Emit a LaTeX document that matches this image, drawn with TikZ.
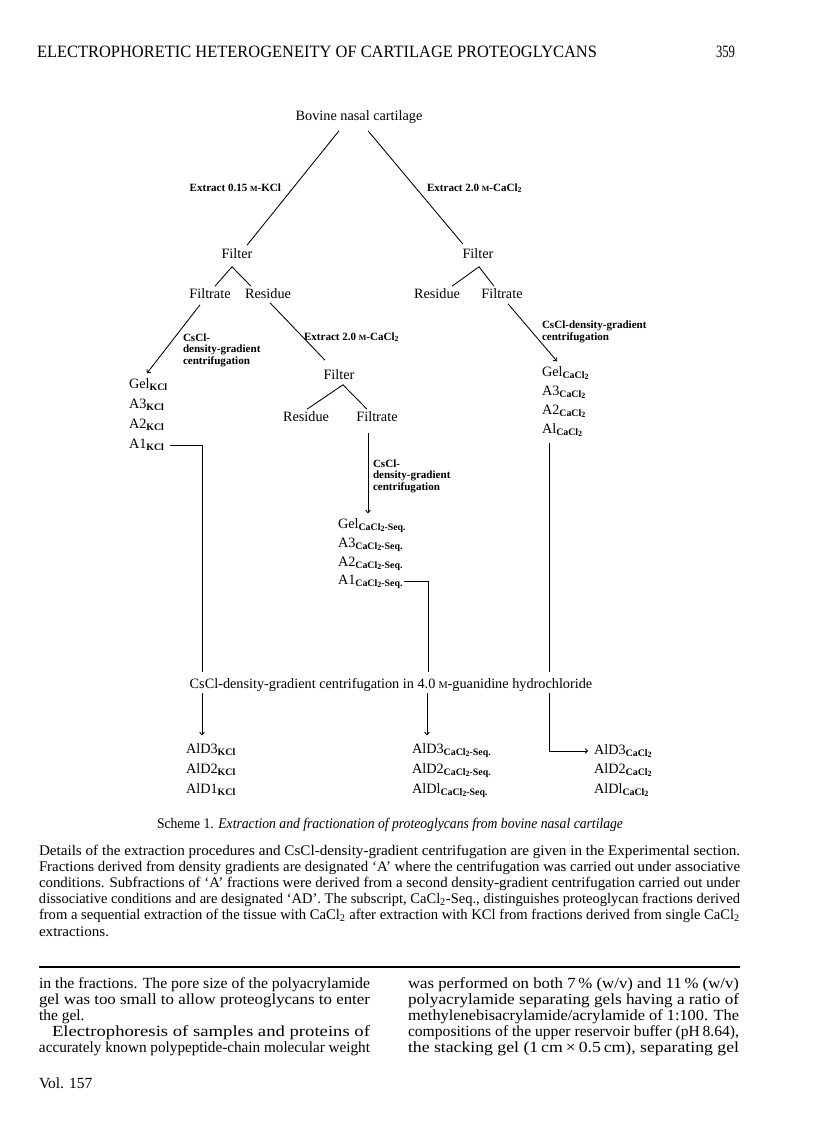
\documentclass[tikz,border=0pt]{standalone}
\usepackage{fontspec}
\setmainfont{Liberation Serif}
\usepackage{graphicx}
\usetikzlibrary{arrows.meta,calc}
\newlength\px \setlength\px{0.75pt}
\newcommand\sml{\kern0.6pt\scalebox{0.72}{M}}
\newcommand\subk[1]{\raisebox{-0.35ex}{\fontsize{7.4}{8}\selectfont\bfseries #1}}
\newcommand\two{\raisebox{-0.3ex}{\fontsize{6}{6}\selectfont 2}}
\newcommand\kcl{\subk{KCl}}
\newcommand\cac{\subk{CaCl\two}}
\newcommand\cas{\subk{CaCl\two-Seq.}}
\begin{document}
\begin{tikzpicture}[x=0.75pt,y=-0.75pt,
  every node/.style={inner sep=0pt,outer sep=0pt},
  lab/.style={font=\fontsize{10.7}{12}\selectfont, text height=7.5pt, text depth=2.7pt},
  note/.style={font=\fontsize{8.3}{8.7}\selectfont\bfseries, align=left},
  con/.style={line width=0.65pt},
  arr/.style={con, -{To[length=2.5pt,width=4pt]}},
  para/.style={anchor=west, font=\fontsize{11}{12}\selectfont},
  body/.style={anchor=west, font=\fontsize{11.6}{13}\selectfont},
  head/.style={font=\fontsize{13}{14}\selectfont}]
\fill[white] (0,0) rectangle (816,1136);
\useasboundingbox (0,0) rectangle (816,1136);

% header
\node[head, anchor=west] (title) at (37,52) {\resizebox{560\px}{\height}{ELECTROPHORETIC HETEROGENEITY OF CARTILAGE PROTEOGLYCANS}};
\node[head, anchor=east] (pageno) at (735,52) {\resizebox{19\px}{\height}{359}};

% diagram nodes
\node[lab] (bov) at (359,117) {Bovine nasal cartilage};
\node[note, anchor=east] (exL) at (281,188) {Extract 0.15\,\sml-KCl};
\node[note, anchor=west] (exR) at (427,188) {Extract 2.0\,\sml-CaCl\textsubscript{2}};
\node[lab] (filL) at (237,255) {Filter};
\node[lab] (filR) at (478,255) {Filter};
\node[lab] (filtL) at (210,295) {Filtrate};
\node[lab] (resL) at (268,295) {Residue};
\node[lab] (resR) at (437,295) {Residue};
\node[lab] (filtR) at (502,295) {Filtrate};
\node[note, anchor=west] (csL) at (183,350) {CsCl-\\density-gradient\\centrifugation};
\node[note, anchor=west] (exM) at (304,337) {Extract 2.0\,\sml-CaCl\textsubscript{2}};
\node[lab] (filM) at (339,376) {Filter};
\node[lab] (resM) at (306,418) {Residue};
\node[lab] (filtM) at (377,418) {Filtrate};
\node[note, anchor=west] (csM) at (373,476) {CsCl-\\density-gradient\\centrifugation};
\node[note, anchor=west] (csR) at (542,332) {CsCl-density-gradient\\centrifugation};

\node[lab, anchor=west] (gelK) at (129,385) {Gel\kcl};
\node[lab, anchor=west] (a3K) at (129,405) {A3\kcl};
\node[lab, anchor=west] (a2K) at (129,425) {A2\kcl};
\node[lab, anchor=west] (a1K) at (129,445) {A1\kcl};

\node[lab, anchor=west] (gelC) at (542,373) {Gel\cac};
\node[lab, anchor=west] (a3C) at (542,392) {A3\cac};
\node[lab, anchor=west] (a2C) at (542,411) {A2\cac};
\node[lab, anchor=west] (a1C) at (542,430) {Al\cac};

\node[lab, anchor=west] (gelS) at (338,525) {Gel\cas};
\node[lab, anchor=west] (a3S) at (338,544) {A3\cas};
\node[lab, anchor=west] (a2S) at (338,563) {A2\cas};
\node[lab, anchor=west] (a1S) at (338,581) {A1\cas};

\node[lab] (cscl) at (391,685) {CsCl-density-gradient centrifugation in 4.0\,\sml-guanidine hydrochloride};

\node[lab, anchor=west] (alD3K) at (186,750) {AlD3\kcl};
\node[lab, anchor=west] (alD2K) at (186,770) {AlD2\kcl};
\node[lab, anchor=west] (alD1K) at (186,790) {AlD1\kcl};
\node[lab, anchor=west] (alD3S) at (412,750) {AlD3\cas};
\node[lab, anchor=west] (alD2S) at (412,770) {AlD2\cas};
\node[lab, anchor=west] (alD1S) at (412,790) {AlDl\cas};
\node[lab, anchor=west] (alD3C) at (594,751) {AlD3\cac};
\node[lab, anchor=west] (alD2C) at (594,770) {AlD2\cac};
\node[lab, anchor=west] (alD1C) at (594,790) {AlDl\cac};

% connectors
\draw[con] ($(bov.south)+(-20,7)$) -- ($(filL.north)+(10,-3)$);
\draw[con] ($(bov.south)+(9,7)$) -- ($(filR.north)+(-15,-4)$);
\draw[con] ($(filtL.north)+(5,-2)$) -- ($(filL.south)+(-5,5)$) -- ($(resL.north)+(-17,-2)$);
\draw[con] ($(resR.north)+(15,-2)$) -- ($(filR.south)+(1,5)$) -- ($(filtR.north)+(-8,-2)$);
\draw[arr] ($(filtL.south)+(-10,3)$) -- ($(gelK.north west)+(18,-5)$);
\draw[con] ($(resL.south)+(2,1)$) -- ($(filM.north)+(-14,-9)$);
\draw[con] ($(resM.north)+(1,-2)$) -- ($(filM.south)+(4,2)$) -- ($(filtM.north)+(-10,-2)$);
\draw[arr] ($(filtM.south)+(-9,8)$) -- ($(gelS.north west)+(30,-5)$);
\draw[arr] ($(filtR.south)+(6,2)$) -- ($(gelC.north west)+(15,-5)$);

\draw[con] ($(a1K.east)+(6,0)$) -| ($(cscl.north)+(-189,-6)$);
\draw[con] ($(a1S.east)+(2,0)$) -| ($(cscl.north)+(37,-6)$);
\draw[con] ($(a1C.south west)+(7,6)$) -- ($(cscl.north)+(158,-6)$);

\draw[arr] ($(cscl.south)+(-189,1)$) -- ($(alD3K.north west)+(16,-8)$);
\draw[arr] ($(cscl.south)+(36,1)$) -- ($(alD3S.north west)+(15,-8)$);
\draw[arr] ($(cscl.south)+(158,1)$) |- ($(alD3C.west)+(-6,0)$);

% caption
\node[para] (cap) at (157,825) {\resizebox{466\px}{\height}{Scheme 1. \textit{Extraction and fractionation of proteoglycans from bovine nasal cartilage}}};
\node[para] (p1) at (39,852) {\resizebox{701\px}{\height}{Details of the extraction procedures and CsCl-density-gradient centrifugation are given in the Experimental section.}};
\node[para] (p2) at (39,868) {\resizebox{701\px}{\height}{Fractions derived from density gradients are designated `A' where the centrifugation was carried out under associative}};
\node[para] (p3) at (39,884) {\resizebox{701\px}{\height}{conditions. Subfractions of `A' fractions were derived from a second density-gradient centrifugation carried out under}};
\node[para] (p4) at (39,900) {\resizebox{701\px}{\height}{dissociative conditions and are designated `AD'. The subscript, CaCl\textsubscript{2}-Seq., distinguishes proteoglycan fractions derived}};
\node[para] (p5) at (39,916) {\resizebox{701\px}{\height}{from a sequential extraction of the tissue with CaCl\textsubscript{2} after extraction with KCl from fractions derived from single CaCl\textsubscript{2}}};
\node[para] (p6) at (39,932) {\scalebox{1.03}[1]{extractions.}};

\draw[line width=1.1pt] (39,967) -- (740,967);

% body text
\node[body] (b1) at (39,985) {\resizebox{331\px}{\height}{in the fractions. The pore size of the polyacrylamide}};
\node[body] (b2) at (39,1001) {\resizebox{331\px}{\height}{gel was too small to allow proteoglycans to enter}};
\node[body] (b3) at (39,1017) {the gel.};
\node[body] (b4) at (52,1033) {\resizebox{318\px}{\height}{Electrophoresis of samples and proteins of}};
\node[body] (b5) at (39,1049) {\resizebox{331\px}{\height}{accurately known polypeptide-chain molecular weight}};
\node[body] (r1) at (408,985) {\resizebox{331\px}{\height}{was performed on both 7\,\% (w/v) and 11\,\% (w/v)}};
\node[body] (r2) at (408,1001) {\resizebox{331\px}{\height}{polyacrylamide separating gels having a ratio of}};
\node[body] (r3) at (408,1017) {\resizebox{331\px}{\height}{methylenebisacrylamide/acrylamide of 1:100. The}};
\node[body] (r4) at (408,1033) {\resizebox{331\px}{\height}{compositions of the upper reservoir buffer (pH\,8.64),}};
\node[body] (r5) at (408,1049) {\resizebox{331\px}{\height}{the stacking gel (1\,cm\,×\,0.5\,cm), separating gel}};
\node[body] (vol) at (39,1083) {Vol. 157};
\end{tikzpicture}
\end{document}
